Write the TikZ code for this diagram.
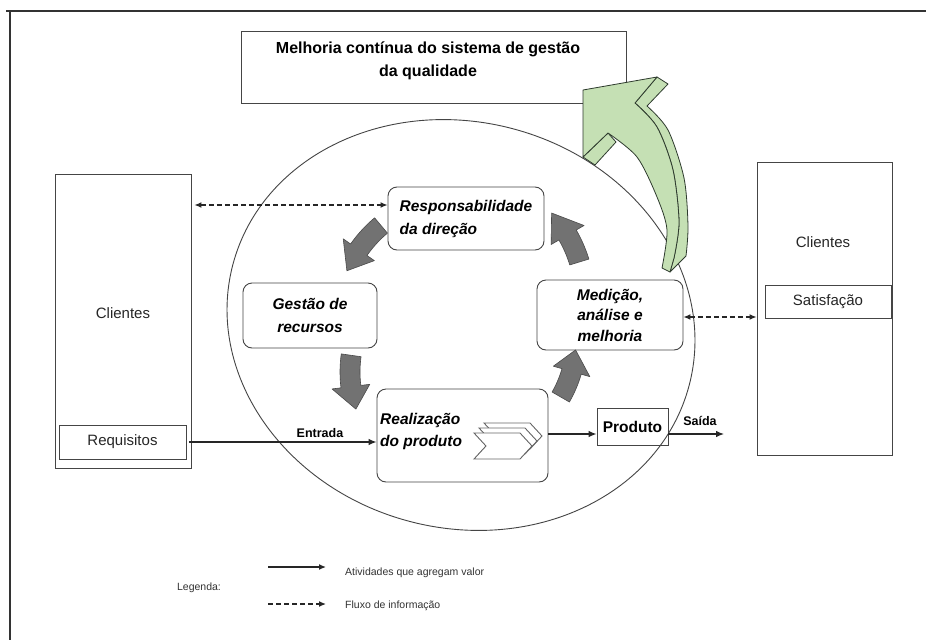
\documentclass[tikz,border=0pt]{standalone}
\usepackage{fontspec}
\setmainfont{Liberation Sans}
\usetikzlibrary{arrows.meta,calc}
\definecolor{lineg}{HTML}{454545}
\definecolor{arrowg}{HTML}{727272}
\definecolor{arrowe}{HTML}{4A4A4A}
\definecolor{greenf}{HTML}{C5E0B4}
\definecolor{greene}{HTML}{2E3B2E}
\newcommand\cycarrow[6]{%
  \filldraw[grayarr] plot[domain=#4:#5,samples=10] ({#1+(#3+10)*cos(\x)},{#2+(#3+10)*sin(\x)})
   -- ({#1+(#3+19)*cos(#5)},{#2+(#3+19)*sin(#5)})
   -- ({#1+#3*cos(#6)},{#2+#3*sin(#6)})
   -- ({#1+(#3-19)*cos(#5)},{#2+(#3-19)*sin(#5)})
   -- plot[domain=#5:#4,samples=10] ({#1+(#3-10)*cos(\x)},{#2+(#3-10)*sin(\x)})
   -- cycle;}
\tikzset{
  boxrect/.style={draw=lineg, line width=0.9pt, inner sep=0pt},
  roundbox/.style={draw=lineg, line width=0.9pt, rounded corners=9pt, fill=white, inner sep=0pt,
    font=\fontsize{15.5}{23}\selectfont\bfseries\itshape},
  plaintxt/.style={font=\fontsize{15}{18}\selectfont, text=black!85, inner sep=0pt},
  smalllab/.style={font=\fontsize{12.5}{15}\selectfont\bfseries, inner sep=0pt},
  legtxt/.style={font=\fontsize{10.5}{13}\selectfont, text=black!80, inner sep=0pt},
  flow/.style={line width=1.1pt, draw=black!85, -{Latex[length=8pt,width=6.5pt]}},
  info/.style={line width=1.3pt, draw=black!85, dash pattern=on 5pt off 3pt,
    {Latex[length=7pt,width=6pt]}-{Latex[length=7pt,width=6pt]}},
  infoone/.style={line width=1.3pt, draw=black!85, dash pattern=on 5pt off 3pt,
    -{Latex[length=7pt,width=6pt]}},
  grayarr/.style={fill=arrowg, draw=arrowe, line width=0.6pt, line join=round},
  greenarr/.style={fill=greenf, draw=greene, line width=0.8pt, line join=round},
  chevron/.style={fill=white, draw=black!60, line width=0.9pt}
}
\begin{document}
\begin{tikzpicture}[x=1pt,y=-1pt]
\useasboundingbox (0,0) rectangle (926,640);
\fill[white] (0,0) rectangle (926,640);
% frame
\draw[line width=2pt, draw=black!80] (926,11) -- (6,11);
\draw[line width=2pt, draw=black!80] (10,10) -- (10,640);

% title box
\node[boxrect, minimum width=385pt, minimum height=72pt] (titlebox) at (433.5,67) {};
\node[font=\fontsize{16}{23}\selectfont\bfseries, align=center, inner sep=0pt] (titletxt) at (428,61)
  {Melhoria contínua do sistema de gestão\\da qualidade};

% customers left
\node[boxrect, minimum width=136pt, minimum height=294pt] (cliL) at (123,321) {};
\node[plaintxt] (cliLtxt) at (123,313) {Clientes};
\node[boxrect, plaintxt, draw=lineg, minimum width=127pt, minimum height=34pt] (req) at (122.5,442) {Requisitos};

% customers right
\node[boxrect, minimum width=135pt, minimum height=293pt] (cliR) at (824.5,308.5) {};
\node[plaintxt] (cliRtxt) at (823,242) {Clientes};
\node[boxrect, plaintxt, draw=lineg, minimum width=126pt, minimum height=33pt] (sat) at (828,301.5) {Satisfação};

% process boxes
\node[roundbox, minimum width=156pt, minimum height=63pt, align=left] (resp) at (466,218.5)
  {Responsabilidade\\da direção};
\node[roundbox, minimum width=134pt, minimum height=65pt, align=center] (gest) at (310,315.5)
  {Gestão de\\recursos};
\node[roundbox, minimum width=146pt, minimum height=70pt, align=center,
  font=\fontsize{15.5}{20.5}\selectfont\bfseries\itshape] (med) at (610,315)
  {Medição,\\análise e\\melhoria};
\node[roundbox, minimum width=171pt, minimum height=93pt] (real) at (462.5,435.5) {};
\node[anchor=west, align=left, inner sep=0pt, font=\fontsize{15.5}{22}\selectfont\bfseries\itshape]
  (realtxt) at (380,431) {Realização\\do produto};
\node[boxrect, minimum width=71pt, minimum height=37pt, font=\fontsize{15.5}{18}\selectfont\bfseries]
  (prod) at (632.5,426.5) {Produto};

% chevrons inside Realizacao
\foreach \cx/\cy in {484/423, 479/428, 474/433}{
  \draw[chevron] (\cx,\cy) -- ++(46,0) -- ++(12,13) -- ++(-12,13) -- ++(-46,0) -- ++(12,-13) -- cycle;
}

% ellipse
\draw[line width=0.9pt, draw=lineg, rotate around={-15:(461,325)}] (461,325) ellipse [x radius=236pt, y radius=203pt];

% cycle arrows
\cycarrow{462}{322}{126}{230}{215}{204}
\cycarrow{470}{372}{120}{188}{173}{162}
\cycarrow{462}{340}{114}{30}{16}{5}
\cycarrow{455}{300}{130}{343}{330}{318}

% coordinates for connectors
\coordinate (yA) at (0,205);
\coordinate (yB) at (0,317);
\coordinate (yC) at (0,434);
\coordinate (saidaend) at (724,434);

\draw[info, shorten <=3pt] (cliL.east |- yA) -- (resp.west |- yA);
\draw[info] (med.east |- yB) -- (cliR.west |- yB);
\draw[flow, shorten <=3pt] (req.east) -- (real.west |- req.east);
\draw[flow] (real.east |- yC) -- (prod.west |- yC);
\draw[flow] (prod.east |- yC) -- (saidaend);
\node[smalllab] (entr) at (320,433) {Entrada};
\node[smalllab] (saida) at (700,421) {Saída};

% green improvement arrow
\filldraw[greenarr] (583,157) -- (595,165) -- (616,142) -- (608,133) -- cycle;
\filldraw[greenarr] (657,77) -- (668,84) -- (647,106)
  -- plot[smooth] coordinates {(647,106) (668,130) (684,178) (688,226) (686,256)}
  -- (670,272) -- (674,258)
  -- plot[smooth] coordinates {(674,258) (679,222) (673,170) (657,127) (635,103)} -- cycle;
\filldraw[greenarr] (583,90) -- (657,77) -- (635,103)
  -- plot[smooth] coordinates {(635,103) (657,127) (673,170) (679,222) (674,258)}
  -- (670,272) -- (662,268)
  -- plot[smooth] coordinates {(662,268) (667,230) (657,197) (637,157) (608,133)}
  -- (583,157) -- cycle;

% legend
\node[legtxt] (leg) at (199,588) {Legenda:};
\coordinate (l1a) at (268,567);
\coordinate (l1b) at (326,567);
\coordinate (l2a) at (268,604);
\coordinate (l2b) at (326,604);
\draw[flow, line width=1.3pt, -{Latex[length=7pt,width=6pt]}] (l1a) -- (l1b);
\draw[infoone] (l2a) -- (l2b);
\node[legtxt, anchor=west] (leg1) at (345,573) {Atividades que agregam valor};
\node[legtxt, anchor=west] (leg2) at (345,606) {Fluxo de informação};
\end{tikzpicture}
\end{document}
